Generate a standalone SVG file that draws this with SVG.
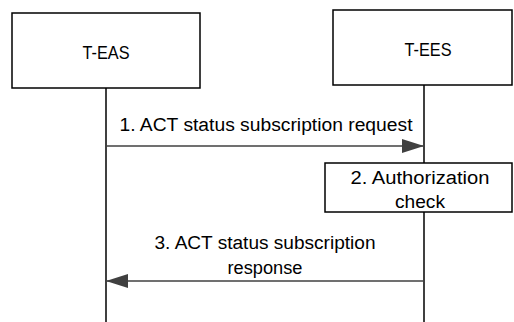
<svg xmlns="http://www.w3.org/2000/svg" width="514" height="322" viewBox="0 0 514 322">
<style>
.box{fill:#fff;stroke:#000;stroke-width:1.5}
.life{stroke:#000;stroke-width:1.5;fill:none}
.msg{stroke:#404040;stroke-width:1.5;fill:none}
text{font-family:"Liberation Sans",Arial,sans-serif;font-size:18px;fill:#000;text-anchor:middle}
</style>
<defs>
<marker id="ah" markerWidth="22" markerHeight="14" refX="22" refY="7" orient="auto" markerUnits="userSpaceOnUse">
<path d="M0,0 L22,7 L0,14 Z" fill="#404040"/>
</marker>
</defs>
<g id="lifelines">
<line class="life" x1="106" y1="88" x2="106" y2="322"/>
<line class="life" x1="424" y1="85" x2="424" y2="322"/>
</g>
<g id="t-eas">
<rect class="box" x="12" y="13" width="188" height="75"/>
<text x="106" y="59" textLength="47" lengthAdjust="spacingAndGlyphs">T-EAS</text>
</g>
<g id="t-ees">
<rect class="box" x="333" y="10" width="179" height="75"/>
<text x="428" y="56" textLength="47" lengthAdjust="spacingAndGlyphs">T-EES</text>
</g>
<g id="connectors">
<line class="msg" x1="106" y1="146" x2="424" y2="146" marker-end="url(#ah)"/>
<line class="msg" x1="424" y1="281" x2="106" y2="281" marker-end="url(#ah)"/>
</g>
<g id="label1">
<text x="266" y="131" textLength="293" lengthAdjust="spacingAndGlyphs">1. ACT status subscription request</text>
</g>
<g id="auth">
<rect class="box" x="325" y="163" width="187" height="49"/>
<text x="420" y="184" textLength="139" lengthAdjust="spacingAndGlyphs">2. Authorization</text>
<text x="420" y="208" textLength="50" lengthAdjust="spacingAndGlyphs">check</text>
</g>
<g id="label3">
<text x="265" y="249" textLength="221" lengthAdjust="spacingAndGlyphs">3. ACT status subscription</text>
<text x="265" y="274" textLength="75" lengthAdjust="spacingAndGlyphs">response</text>
</g>
</svg>
